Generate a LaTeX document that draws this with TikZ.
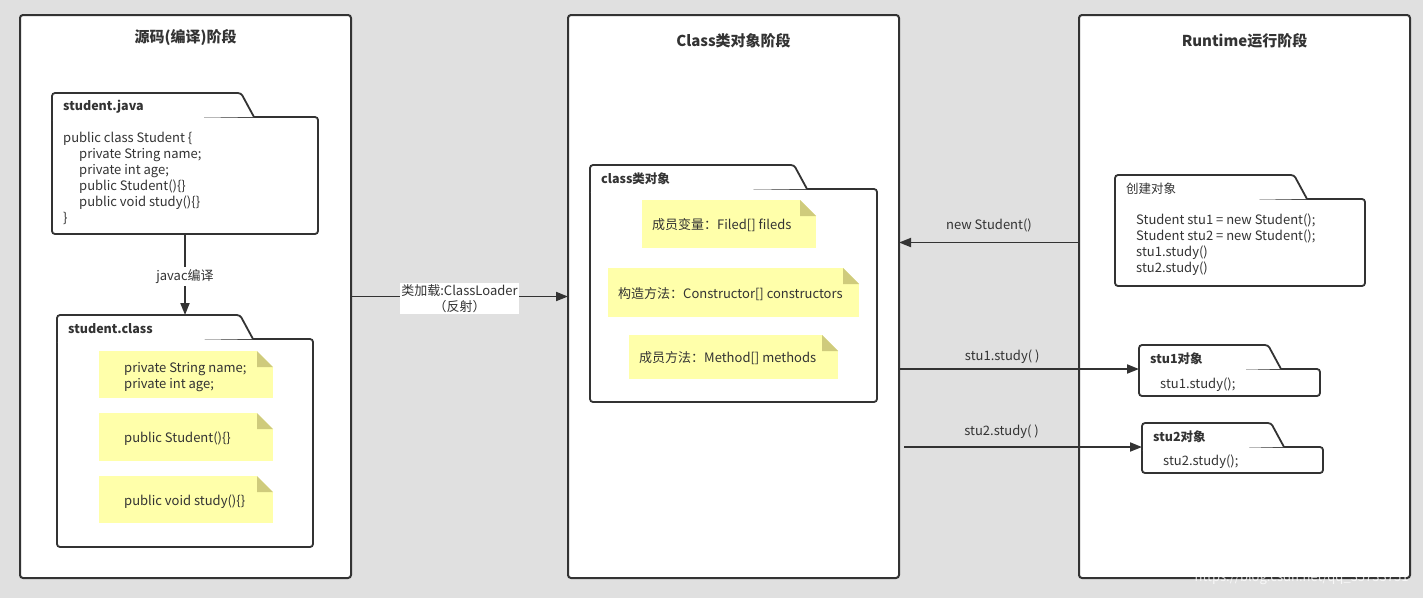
\documentclass[tikz,border=0pt]{standalone}
\usepackage{fontspec}
\setmainfont{Noto Sans CJK SC}
\usetikzlibrary{arrows.meta,positioning}
\definecolor{bggray}{HTML}{E0E0E0}
\definecolor{ink}{HTML}{333333}
\definecolor{notefill}{HTML}{FFFFAA}
\definecolor{notefold}{HTML}{CFCB7C}

%%% package = body node + tab on top: name, x, y, width, height, tab width, tab label, label font
\newcommand{\pkgbox}[8]{
  \node[pkgbody, minimum width=#4, minimum height=#5] (#1) at (#2,#3) {};
  \draw[pkgtab] ([yshift=-3pt]#1.north west) -- ++(0,-27) -- ++(#6,0) -- ++(13,24);
  \node[tablbl, #8] at ([xshift=11pt,yshift=10pt]#1.north west) {#7};
  \coordinate (#1-tab) at ([yshift=24pt]#1.north west);
}
%%% sticky note with folded corner: name, x, y, width, height
\newcommand{\stickynote}[5]{
  \node[note, minimum width=#4, minimum height=#5] (#1) at (#2,#3) {};
  \fill[white] (#1.north east) -- ++(-16,0) -- ++(16,16) -- cycle;
  \fill[notefold] ([xshift=-16pt]#1.north east) -- ++(0,16) -- ++(16,0) -- cycle;
}

\tikzset{
  panel/.style={draw=ink, line width=2pt, fill=white, rounded corners=3pt, anchor=north west, inner sep=0pt, outer sep=0pt},
  pkgbody/.style={draw=ink, line width=1.8pt, fill=white, rounded corners=3pt, anchor=north west, inner sep=0pt, outer sep=0pt},
  pkgtab/.style={draw=ink, line width=1.8pt, fill=white, rounded corners=3pt},
  note/.style={fill=notefill, anchor=north west, inner sep=0pt, outer sep=0pt},
  title/.style={font=\fontsize{15}{17}\selectfont\bfseries, text=ink},
  tablbl/.style={font=\fontsize{12.5}{15}\selectfont\bfseries, text=ink, anchor=west, inner sep=0pt},
  code/.style={font=\fontsize{13}{16}\selectfont, text=ink, anchor=west, inner sep=0pt, align=left},
  lbl/.style={font=\fontsize{13}{16}\selectfont, text=ink},
  flow/.style={draw=ink, line width=1.8pt, -{Triangle[length=12pt,width=9pt]}},
}

\begin{document}
\begin{tikzpicture}[x=1pt, y=-1pt]
  \fill[bggray] (0,0) rectangle (1423,598);
  \useasboundingbox (0,0) rectangle (1423,598);

  %%% the three stages
  \foreach \nm/\px in {src/20, cls/568, rt/1079}{
    \node[panel, minimum width=331, minimum height=563] (\nm) at (\px,15) {};
  }
  \node[title] (srctitle) at ([yshift=-22pt]src.north) {源码(编译)阶段};
  \node[title] (clstitle) at ([yshift=-26pt]cls.north) {Class类对象阶段};
  \node[title] (rttitle)  at ([yshift=-26pt]rt.north)  {Runtime运行阶段};

  %%% source stage
  \pkgbox{java}{52}{117}{266}{117}{189}{student.java}{}
  \node[code] (javasrc) at (63,178.5) {public class Student \{\\
    \hspace*{16pt}private String name;\\
    \hspace*{16pt}private int age;\\
    \hspace*{16pt}public Student()\{\}\\
    \hspace*{16pt}public void study()\{\}\\
    \}};
  \pkgbox{clsfile}{57}{339}{256}{208}{183}{student.class}{}
  \stickynote{fld}{99}{351}{174}{47}
  \stickynote{ctor}{99}{413}{174}{48}
  \stickynote{mth}{99}{476}{174}{47}
  \node[code] (fldtxt)  at (124,377) {private String name;\\private int age;};
  \node[code] (ctortxt) at (124,438.5) {public Student()\{\}};
  \node[code] (mthtxt)  at (124,501.5) {public void study()\{\}};
  \draw[flow] (java.south) -- node[lbl, fill=white, inner sep=2pt, yshift=-2pt] {javac编译} (java.south |- clsfile-tab);

  %%% class object stage
  \pkgbox{clsobj}{590}{189}{287}{213}{204}{class类对象}{}
  \stickynote{ofld}{642}{200}{174}{48}
  \stickynote{octor}{608}{268}{251}{49}
  \stickynote{omth}{629}{335}{209}{44}
  \node[code] (ofldtxt)  at (652,225.5) {成员变量：Filed[] fileds};
  \node[code] (octortxt) at (618,294.5) {构造方法：Constructor[] constructors};
  \node[code] (omthtxt)  at (639,358.5) {成员方法：Method[] methods};
  \draw[flow] (src.east) -- node[lbl, fill=white, align=center, inner sep=1pt, yshift=-2pt] {类加载:ClassLoader\\（反射）} (cls.west);

  %%% runtime stage
  \pkgbox{create}{1115}{199}{250}{87}{179}{创建对象}{font=\fontsize{12.5}{15}\selectfont}
  \node[code] (createtxt) at (1136,244.5) {Student stu1 = new Student();\\Student stu2 = new Student();\\stu1.study()\\stu2.study()};
  \pkgbox{stu1}{1139}{369}{181}{27}{129}{stu1对象}{}
  \node[code] (stu1txt) at (1160,384.5) {stu1.study();};
  \pkgbox{stu2}{1142}{447}{181}{26}{129}{stu2对象}{}
  \node[code] (stu2txt) at (1163,461.5) {stu2.study();};
  \coordinate (s2from) at (904,447);

  \draw[flow] (create.west -| rt.west) -- node[lbl, above=6pt] {new Student()} (create.west -| cls.east);
  \draw[flow] (stu1.north west -| cls.east) -- node[lbl, above=1pt, pos=0.43] {stu1.study( )} (stu1.north west);
  \draw[flow] (s2from) -- node[lbl, above=4pt, pos=0.41] {stu2.study( )} (stu2.north west);

  %%% watermark
  \node[font=\fontsize{13}{15}\selectfont, text=white, opacity=0.8, anchor=east] (mark) at (1412,578) {https://blog.csdn.net/qq\_35733751};
\end{tikzpicture}
\end{document}
